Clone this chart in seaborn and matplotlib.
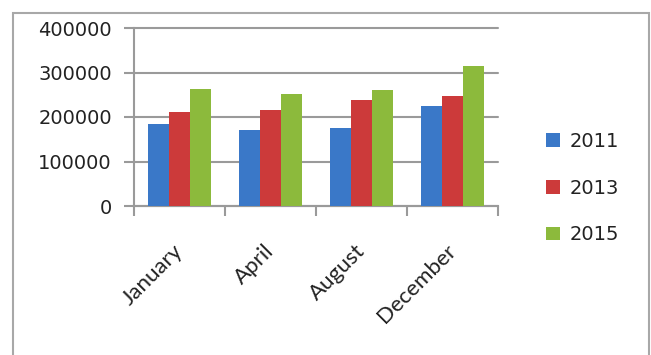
import matplotlib
matplotlib.use("Agg")
import matplotlib.pyplot as plt
from matplotlib.patches import Rectangle
import seaborn as sns
import pandas as pd

months = ["January", "April", "August", "December"]
years = ["2011", "2013", "2015"]
v2011 = [184000, 171000, 175000, 225000]
v2013 = [212000, 216000, 238000, 247000]
v2015 = [264000, 252000, 261000, 315000]
yticks = [0, 100000, 200000, 300000, 400000]
colors = ["#3A78C8", "#CC3A3A", "#8CBA3C"]

rows = []
for yr, vals in zip(years, [v2011, v2013, v2015]):
    for m, v in zip(months, vals):
        rows.append({"month": m, "year": yr, "value": v})
df = pd.DataFrame(rows)

sns.set_style("white")
plt.rcParams["font.family"] = ["DejaVu Sans"]
plt.rcParams["ytick.left"] = True
plt.rcParams["xtick.bottom"] = True

W, H = 651, 355
fig = plt.figure(figsize=(W / 100, H / 100), dpi=100)
ax = fig.add_axes([134 / W, 1 - 206 / H, (498 - 134) / W, (206 - 28) / H])

sns.barplot(data=df, x="month", y="value", hue="year", order=months,
            hue_order=years, palette=colors, saturation=1, width=0.69,
            gap=0, ax=ax, zorder=3, edgecolor="none")

ax.set_ylim(0, 400000)
ax.set_xlim(-0.5, len(months) - 0.5)
ax.set_yticks(yticks)
ax.set_yticklabels([str(t) for t in yticks], fontsize=14, color="#222222")
ax.set_xlabel("")
ax.set_ylabel("")

# grid lines
ax.yaxis.grid(True, color="#9a9a9a", linewidth=1.5, zorder=0)
ax.set_axisbelow(True)
for gl in ax.get_ygridlines():
    gl.set_clip_on(False)

for s in ["top", "right"]:
    ax.spines[s].set_visible(False)
for s in ["left", "bottom"]:
    ax.spines[s].set_color("#9a9a9a")
    ax.spines[s].set_linewidth(1.5)

ax.yaxis.set_tick_params(which="major", left=True, direction="out",
                         length=7, width=1.5, color="#9a9a9a", pad=9)
ax.set_xticks([i for i in range(len(months))])
ax.set_xticklabels(months, rotation=45, ha="right", rotation_mode="anchor",
                   va="center", fontsize=16, family="Lato", color="#222222")
ax.tick_params(axis="x", which="major", bottom=True, length=0, pad=30)
ax.set_xticks([i - 0.5 for i in range(len(months) + 1)], minor=True)
ax.tick_params(axis="x", which="minor", bottom=True, length=7, width=1.5,
               color="#9a9a9a")

leg = ax.legend(loc="center left", bbox_to_anchor=(546 / W, 1 - 188 / H),
                bbox_transform=fig.transFigure, frameon=False, fontsize=14,
                handlelength=0.7, handleheight=0.7, handletextpad=0.5,
                labelspacing=1.42, borderaxespad=0, borderpad=0)
for t in leg.get_texts():
    t.set_color("#222222")

fig.patches.append(Rectangle((13 / W, -0.1), (649 - 13) / W, (H - 13) / H + 0.1,
                             transform=fig.transFigure, fill=False,
                             edgecolor="#a8a8a8", linewidth=1.5))

fig.savefig("out.png", dpi=100, facecolor="white")
